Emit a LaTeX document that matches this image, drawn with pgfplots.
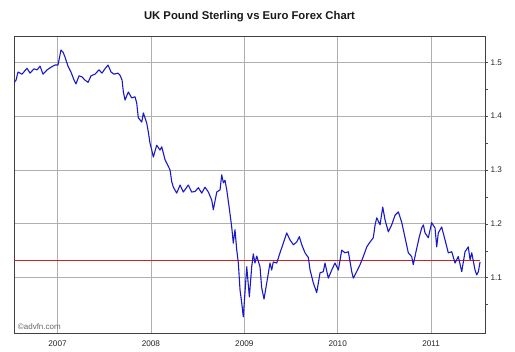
\documentclass[border=0pt]{standalone}
\usepackage{fontspec}
\setmainfont{Liberation Sans}
\usepackage{pgfplots}
\pgfplotsset{compat=1.18}
\definecolor{lineblue}{RGB}{25,25,200}
\definecolor{gridgray}{RGB}{175,175,175}
\definecolor{refred}{RGB}{215,30,30}
\begin{document}
\begin{tikzpicture}
\path[use as bounding box] (-14pt,-19pt) rectangle (501pt,333pt);
\begin{axis}[
  scale only axis,
  width=471pt, height=297pt,
  xmin=2006.534, xmax=2011.577,
  ymin=0.997, ymax=1.549,
  xtick={2007,2008,2009,2010,2011},
  xticklabels={2007,2008,2009,2010,2011},
  ytick={1.1,1.2,1.3,1.4,1.5},
  yticklabels={1.1,1.2,1.3,1.4,1.5},
  minor ytick={1.05,1.15,1.25,1.35,1.45},
  yticklabel pos=right,
  ytick pos=right,
  xtick pos=bottom,
  tick align=outside,
  major tick length=3pt,
  minor tick length=3pt,
  x tick style={draw=none},
  y tick style={black!70},
  minor y tick style={black!70},
  grid=major,
  major grid style={gridgray, line width=0.8pt},
  axis line style={black!75, line width=0.9pt},
  tick label style={font=\fontsize{8.2}{9}\selectfont, text=black!85},
  /pgf/number format/assume math mode=true,
  xticklabel style={yshift=-1pt},
  yticklabel style={xshift=-1pt},
  title={\bfseries UK Pound Sterling vs Euro Forex Chart},
  title style={font=\fontsize{11.3}{13}\selectfont\bfseries, yshift=5pt, text=black!90},
  clip=true,
]
\addplot[refred, line width=0.8pt] coordinates {(2006.534,1.131) (2011.524,1.131)};
\addplot[lineblue, line width=1.1pt, line join=round] coordinates {
(2006.534,1.462) (2006.556,1.467) (2006.577,1.482) (2006.620,1.478) (2006.673,1.489)
(2006.706,1.480) (2006.748,1.488) (2006.781,1.486) (2006.813,1.493) (2006.845,1.478)
(2006.888,1.486) (2006.930,1.491) (2006.973,1.495) (2007.005,1.495) (2007.037,1.523)
(2007.059,1.519) (2007.080,1.510) (2007.112,1.493) (2007.144,1.482) (2007.177,1.467)
(2007.198,1.460) (2007.230,1.475) (2007.262,1.473) (2007.294,1.467) (2007.327,1.463)
(2007.359,1.475) (2007.401,1.478) (2007.444,1.486) (2007.476,1.480) (2007.508,1.488)
(2007.541,1.495) (2007.573,1.482) (2007.605,1.478) (2007.648,1.480) (2007.669,1.476)
(2007.691,1.467) (2007.705,1.445) (2007.723,1.430) (2007.758,1.445) (2007.794,1.434)
(2007.830,1.436) (2007.848,1.424) (2007.865,1.397) (2007.902,1.389) (2007.919,1.406)
(2007.955,1.387) (2007.972,1.371) (2007.990,1.350) (2008.009,1.337) (2008.026,1.324)
(2008.062,1.346) (2008.097,1.337) (2008.116,1.343) (2008.151,1.319) (2008.169,1.313)
(2008.205,1.300) (2008.223,1.278) (2008.240,1.268) (2008.276,1.257) (2008.312,1.272)
(2008.347,1.259) (2008.400,1.272) (2008.437,1.259) (2008.472,1.260) (2008.508,1.267)
(2008.544,1.257) (2008.579,1.268) (2008.615,1.259) (2008.651,1.244) (2008.668,1.226)
(2008.705,1.259) (2008.740,1.263) (2008.758,1.291) (2008.776,1.276) (2008.793,1.281)
(2008.812,1.263) (2008.839,1.229) (2008.865,1.194) (2008.882,1.164) (2008.900,1.189)
(2008.919,1.151) (2008.936,1.127) (2008.954,1.077) (2008.972,1.053) (2008.989,1.027)
(2009.007,1.072) (2009.026,1.120) (2009.054,1.064) (2009.079,1.120) (2009.096,1.144)
(2009.114,1.127) (2009.133,1.140) (2009.168,1.120) (2009.186,1.081) (2009.211,1.060)
(2009.240,1.090) (2009.275,1.127) (2009.293,1.114) (2009.310,1.129) (2009.347,1.127)
(2009.382,1.146) (2009.418,1.164) (2009.454,1.183) (2009.489,1.170) (2009.525,1.161)
(2009.561,1.166) (2009.589,1.176) (2009.615,1.161) (2009.650,1.146) (2009.686,1.137)
(2009.704,1.114) (2009.739,1.090) (2009.775,1.072) (2009.811,1.109) (2009.846,1.111)
(2009.864,1.127) (2009.899,1.099) (2009.936,1.114) (2009.971,1.127) (2010.007,1.114)
(2010.043,1.151) (2010.078,1.146) (2010.114,1.148) (2010.150,1.111) (2010.167,1.099)
(2010.203,1.111) (2010.239,1.124) (2010.274,1.139) (2010.311,1.157) (2010.346,1.166)
(2010.381,1.174) (2010.400,1.198) (2010.418,1.211) (2010.453,1.198) (2010.482,1.231)
(2010.507,1.207) (2010.542,1.185) (2010.578,1.198) (2010.614,1.216) (2010.649,1.222)
(2010.685,1.203) (2010.721,1.174) (2010.756,1.146) (2010.792,1.139) (2010.809,1.124)
(2010.838,1.148) (2010.874,1.176) (2010.899,1.192) (2010.917,1.198) (2010.935,1.183)
(2010.970,1.174) (2011.006,1.202) (2011.042,1.192) (2011.060,1.157) (2011.077,1.183)
(2011.113,1.194) (2011.149,1.170) (2011.184,1.146) (2011.221,1.148) (2011.256,1.127)
(2011.291,1.139) (2011.328,1.111) (2011.363,1.148) (2011.398,1.157) (2011.417,1.133)
(2011.435,1.146) (2011.470,1.114) (2011.488,1.105) (2011.506,1.111) (2011.524,1.129)
};
\node[anchor=south west, font=\fontsize{8}{9}\selectfont, text=black!60, inner sep=0pt] at (rel axis cs:0.008,0.012) {©advfn.com};
\end{axis}
\end{tikzpicture}
\end{document}
